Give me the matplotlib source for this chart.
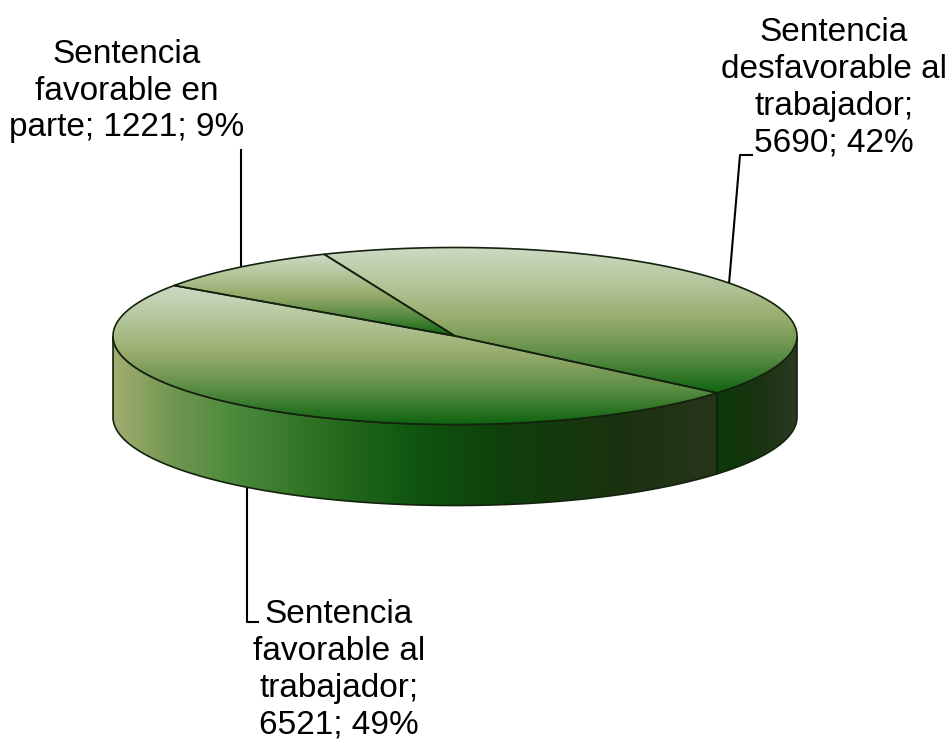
import numpy as np
import matplotlib
matplotlib.use('Agg')
import matplotlib.pyplot as plt
from matplotlib.colors import LinearSegmentedColormap
from matplotlib.patches import Polygon

plt.rcParams['font.family'] = ['Liberation Sans', 'DejaVu Sans']

categories = ['Sentencia\ndesfavorable al\ntrabajador;\n5690; 42%',
              'Sentencia\nfavorable al\ntrabajador;\n6521; 49%',
              'Sentencia\nfavorable en\nparte; 1221; 9%']
values = [5690, 6521, 1221]

# geometria del pastel en pixeles
cx, cy, rx, ry, depth = 455, 336, 342, 88.5, 81
start = 112.5

top_cmap = LinearSegmentedColormap.from_list('top', [(0, '#ccdac4'), (0.25, '#b3c69a'), (0.5, '#97ab6b'),
                                                     (0.75, '#5a8c44'), (1, '#0f6410')])
front_cmap = LinearSegmentedColormap.from_list('front', [(0, '#a3ad70'), (0.1, '#6f9650'), (0.2, '#4c8a3c'),
                                                         (0.35, '#2a6e20'), (0.5, '#0f5510'), (0.65, '#0f3f0b'),
                                                         (0.85, '#1b3210'), (1, '#27351b')])
right_cmap = LinearSegmentedColormap.from_list('right', [(0, '#0b3a07'), (0.5, '#1a3312'), (1, '#2b3a21')])


def rim(a0, a1, n=200):
    t = np.radians(np.linspace(a0, a1, n))
    return cx + rx * np.cos(t), cy - ry * np.sin(t)


def fill(ax, xs, ys, cmap, horizontal, zorder):
    poly = Polygon(np.column_stack([xs, ys]), closed=True, fc='none', ec='#14220e', lw=1.2, zorder=zorder + 0.5)
    ax.add_patch(poly)
    grad = np.linspace(0, 1, 256)
    grad = grad.reshape(1, -1) if horizontal else grad.reshape(-1, 1)
    im = ax.imshow(grad, cmap=cmap, aspect='auto', zorder=zorder, interpolation='bilinear',
                   extent=(xs.min(), xs.max(), ys.max(), ys.min()))
    im.set_clip_path(poly)


fig = plt.figure(figsize=(9.53, 7.44), dpi=100)
ax = fig.add_axes([0, 0, 1, 1])

# lineas guia
ax.plot([241, 241], [150, 268], color='black', lw=1.5, zorder=1)
ax.plot([752, 740, 729], [155, 155, 284], color='black', lw=1.5, zorder=1)
ax.plot([247, 247, 258], [486, 622, 622], color='black', lw=1.5, zorder=1)

angles = start - np.cumsum([0] + values) / sum(values) * 360

# cara lateral
side_cmaps = [right_cmap, front_cmap]
for i in range(2):
    a0 = min(angles[i], 0)
    a1 = max(angles[i + 1], -180)
    x, y = rim(a0, a1)
    xs = np.concatenate([x, x[::-1]])
    ys = np.concatenate([y, y[::-1] + depth])
    fill(ax, xs, ys, side_cmaps[i], True, 2)

# cara superior
for i in [2, 0, 1]:
    x, y = rim(angles[i], angles[i + 1])
    xs = np.concatenate([[cx], x])
    ys = np.concatenate([[cy], y])
    fill(ax, xs, ys, top_cmap, False, 3 + i * 0.1)

ax.set_xlim(0, 953)
ax.set_ylim(744, 0)
ax.axis('off')

label_pos = [(834, 88), (339, 670), (127, 91)]
for name, (lx, ly) in zip(categories, label_pos):
    ax.text(lx, ly, name, ha='center', va='center', fontsize=24, color='black', linespacing=1.24)

fig.savefig('out.png', dpi=100)
